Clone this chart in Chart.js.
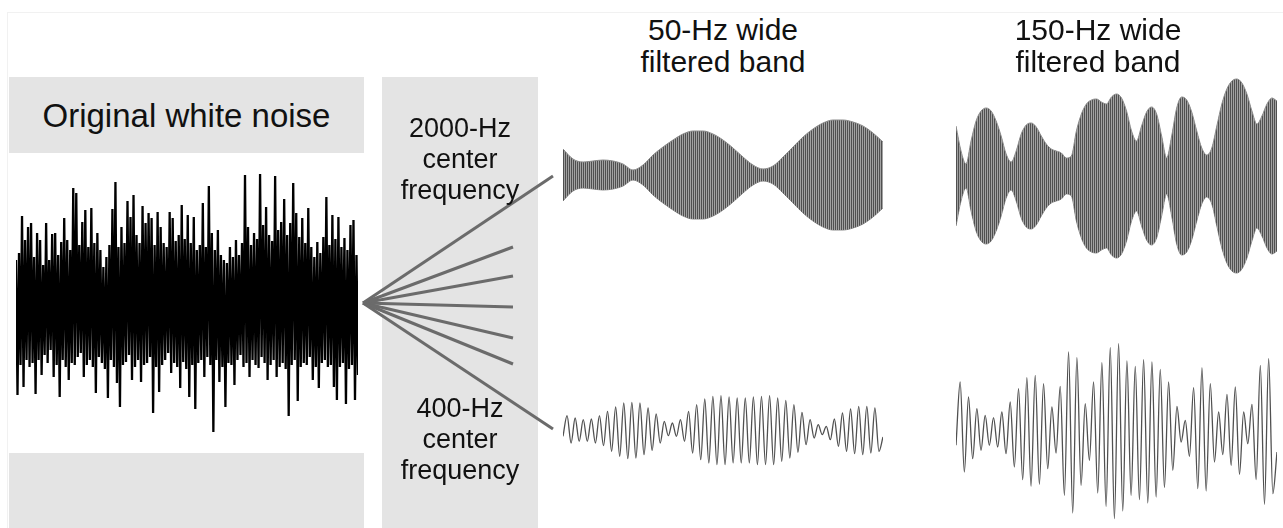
<!DOCTYPE html>
<html>
<head>
<meta charset="utf-8">
<script src="https://cdn.jsdelivr.net/npm/chart.js@4.4.1/dist/chart.umd.min.js"></script>
<style>
  body { margin: 0; background: #fff; width: 1283px; height: 528px; overflow: hidden; position: relative; font-family: 'Liberation Sans', Arial, sans-serif; color: #111; }
  .box { position: absolute; background: #e4e4e4; }
  .txt { position: absolute; text-align: center; white-space: nowrap; }
  canvas { position: absolute; }
  .frame { position: absolute; left: 7px; top: 12px; right: 0; bottom: 0; border-left: 1px solid #f1f1f1; border-top: 1px solid #f1f1f1; }
</style>
</head>
<body>
<div class="frame"></div>
<div class="box" style="left:9px;top:77px;width:355px;height:76px"></div>
<div class="box" style="left:9px;top:453px;width:355px;height:75px"></div>
<div class="box" style="left:382px;top:77px;width:156px;height:451px"></div>

<canvas id="noise" width="342" height="270" style="left:16px;top:170px"></canvas>
<canvas id="fan" width="202" height="275" style="left:356px;top:165px"></canvas>
<canvas id="band50hi" width="320" height="120" style="left:563px;top:115px"></canvas>
<canvas id="band150hi" width="321" height="200" style="left:956px;top:76px"></canvas>
<canvas id="band50lo" width="320" height="80" style="left:563px;top:390px"></canvas>
<canvas id="band150lo" width="321" height="190" style="left:956px;top:337px"></canvas>

<div class="txt" style="left:9px;top:99px;width:355px;font-size:33px;line-height:33px">Original white noise</div>
<div class="txt" style="left:385px;top:113px;width:150px;font-size:27px;line-height:31px">2000-Hz<br>center<br>frequency</div>
<div class="txt" style="left:385px;top:393px;width:150px;font-size:27px;line-height:31px">400-Hz<br>center<br>frequency</div>
<div class="txt" style="left:573px;top:14px;width:300px;font-size:30px;line-height:32px">50-Hz wide<br>filtered band</div>
<div class="txt" style="left:948px;top:14px;width:300px;font-size:30px;line-height:32px">150-Hz wide<br>filtered band</div>

<script>
// white noise: successive highs and lows of the trace
const noiseHigh = [45, 52, 89, 65, 78, 82, 48, 72, 65, 40, 82, 45, 71, 72, 50, 63, 87, 65, 55, 117,
  112, 60, 83, 95, 58, 97, 62, 72, 55, 38, 48, 60, 96, 123, 58, 78, 62, 104, 88, 110,
  70, 62, 99, 82, 92, 87, 60, 93, 78, 62, 58, 93, 87, 64, 70, 100, 66, 90, 62, 88,
  55, 60, 102, 58, 119, 72, 55, 75, 50, 45, 42, 58, 48, 65, 50, 62, 130, 78, 60, 72,
  66, 131, 80, 98, 70, 64, 129, 75, 83, 106, 70, 82, 122, 92, 68, 87, 62, 97, 58, 48,
  63, 52, 68, 108, 60, 90, 66, 88, 58, 67, 55, 80, 85, 50];
const noiseLow = [-90, -60, -82, -55, -62, -58, -89, -55, -70, -50, -58, -45, -72, -60, -92, -55, -62, -75, -58, -60,
  -52, -48, -72, -60, -55, -62, -88, -52, -58, -64, -93, -55, -62, -78, -102, -60, -57, -50, -75, -62,
  -55, -77, -60, -58, -52, -108, -62, -87, -60, -55, -48, -68, -58, -62, -83, -57, -64, -92, -60, -104,
  -58, -55, -72, -52, -60, -127, -55, -77, -62, -102, -58, -60, -80, -55, -50, -62, -58, -72, -55, -60,
  -63, -52, -58, -75, -60, -55, -72, -62, -58, -64, -111, -60, -55, -96, -62, -58, -60, -52, -75, -62,
  -83, -58, -55, -62, -60, -82, -95, -62, -58, -99, -64, -60, -95, -70];

// filter channels fanning out from the noise
const fanEndX = [190, 150, 150, 150, 150, 150, 190];
const fanEndY = [127, 56, 27, -4, -35, -61, -126];

// 2000-Hz center: envelope of the dense carrier
const env50 = [26, 16, 13, 14, 15, 14, 11, 5, 10, 20, 28, 35, 41, 44, 44, 41, 35, 27, 18, 10,
  6, 9, 18, 28, 38, 46, 52, 55, 55, 53, 49, 42, 33];
const env150 = [50, 25, 12, 35, 55, 65, 68, 65, 55, 40, 22, 14, 25, 42, 51, 53, 49, 40, 32, 27,
  25, 23, 18, 20, 45, 62, 72, 76, 77, 74, 72, 79, 82, 78, 65, 45, 35, 50, 64, 69,
  62, 40, 18, 40, 68, 79, 76, 64, 45, 28, 21, 28, 50, 72, 87, 95, 97, 93, 82, 65,
  52, 60, 72, 78, 75];

// 400-Hz center: peaks and troughs of each cycle
const peaks50 = [14.3, 12, 10.3, 11, 14.3, 18.7, 23, 27, 27.7, 27, 22, 16, 8.7, 7, 10.3, 18.7, 25.3, 31, 33.7, 34.3,
  33, 32, 32, 33, 33.7, 34.3, 32, 29.7, 25.3, 17.7, 10.3, 5.3, 3.7, 11, 17, 21, 23.7, 23.7, 22];
const troughs50 = [-13, -11.3, -11.3, -13, -15.7, -21.3, -26.3, -28.7, -28, -24.7, -20.3, -13, -5.7, -6.3, -11.3, -23, -29.7, -33, -34.7, -34.7,
  -33, -33, -33, -34.7, -34.7, -34.7, -31.3, -28, -22.3, -14.7, -8, -4.7, -9.7, -16.3, -21.3, -23.7, -24.7, -23, -21.3];
const peaks150 = [50, 35, 23.3, 16.7, 14.3, 20, 30, 43.3, 54.3, 56.7, 48.3, 25, 45.7, 80, 74.3, 28.3, 50, 69.3, 84.3, 88.3,
  71, 65.7, 72.3, 70, 62.7, 50, 25.7, 11.7, 44.3, 64.3, 48.3, 20, 37.7, 45, 20, 27.7, 66.7, 73.3];
const troughs150 = [-40, -26.7, -18.3, -13.3, -15, -21.7, -35, -47.7, -54.3, -52.3, -36.7, -21, -63.3, -81, -53.3, -28.3, -61, -74.3, -86.7, -79,
  -63.3, -67.7, -71, -65, -55.7, -38.3, -10, -24.3, -56.7, -59, -30, -22.7, -33.3, -42.3, -11.7, -47.7, -72.3, -61.7];

Chart.defaults.animation = false;
Chart.defaults.responsive = false;
Chart.defaults.events = [];
Chart.defaults.plugins.legend.display = false;
Chart.defaults.plugins.tooltip.enabled = false;

function hiddenScales(lim) {
  return { x: { display: false }, y: { display: false, min: -lim, max: lim } };
}

// join highs and lows into one zig-zag trace
const noiseTrace = [];
noiseHigh.forEach((h, i) => {
  noiseTrace.push(h);
  noiseTrace.push(noiseLow[i]);
});

new Chart(document.getElementById('noise'), {
  type: 'line',
  data: {
    labels: noiseTrace.map((v, i) => i),
    datasets: [{
      data: noiseTrace,
      fill: false,
      borderColor: '#000',
      borderWidth: 2.3,
      pointRadius: 0,
      tension: 0
    }]
  },
  options: { scales: hiddenScales(135) }
});

new Chart(document.getElementById('fan'), {
  type: 'scatter',
  data: {
    datasets: fanEndY.map((y, i) => ({
      data: [{ x: 0, y: 0 }, { x: fanEndX[i], y: y }],
      showLine: true,
      borderColor: '#6b6b6b',
      borderWidth: 3,
      pointRadius: 0
    }))
  },
  options: {
    scales: {
      x: { display: false, min: -7, max: 195 },
      y: { display: false, min: -137, max: 138 }
    }
  }
});

function stripes(dark, light) {
  const c = document.createElement('canvas');
  c.width = 2;
  c.height = 1;
  const g = c.getContext('2d');
  g.fillStyle = dark;
  g.fillRect(0, 0, 1, 1);
  g.fillStyle = light;
  g.fillRect(1, 0, 1, 1);
  return g.createPattern(c, 'repeat');
}

function envelopeChart(id, env, lim) {
  new Chart(document.getElementById(id), {
    type: 'line',
    data: {
      labels: env.map((v, i) => i),
      datasets: [
        { data: env, fill: '+1', backgroundColor: stripes('#505050', '#a2a2a2'), borderColor: '#8c8c8c', borderWidth: 1, pointRadius: 0, cubicInterpolationMode: 'monotone' },
        { data: env.map(v => -v), fill: false, borderColor: '#8c8c8c', borderWidth: 1, pointRadius: 0, cubicInterpolationMode: 'monotone' }
      ]
    },
    options: { scales: hiddenScales(lim) }
  });
}

function waveChart(id, start, peaks, troughs, end, lim) {
  const seq = [start];
  peaks.forEach((p, i) => {
    seq.push(p);
    seq.push(troughs[i]);
  });
  seq.push(end);
  new Chart(document.getElementById(id), {
    type: 'line',
    data: {
      labels: seq.map((v, i) => i),
      datasets: [{ data: seq, fill: false, borderColor: '#505050', borderWidth: 1.3, pointRadius: 0, cubicInterpolationMode: 'monotone' }]
    },
    options: { scales: hiddenScales(lim) }
  });
}

envelopeChart('band50hi', env50, 60);
envelopeChart('band150hi', env150, 100);
waveChart('band50lo', -6.3, peaks50, troughs50, -7, 40);
waveChart('band150lo', -13.3, peaks150, troughs150, -20, 95);
</script>
</body>
</html>
